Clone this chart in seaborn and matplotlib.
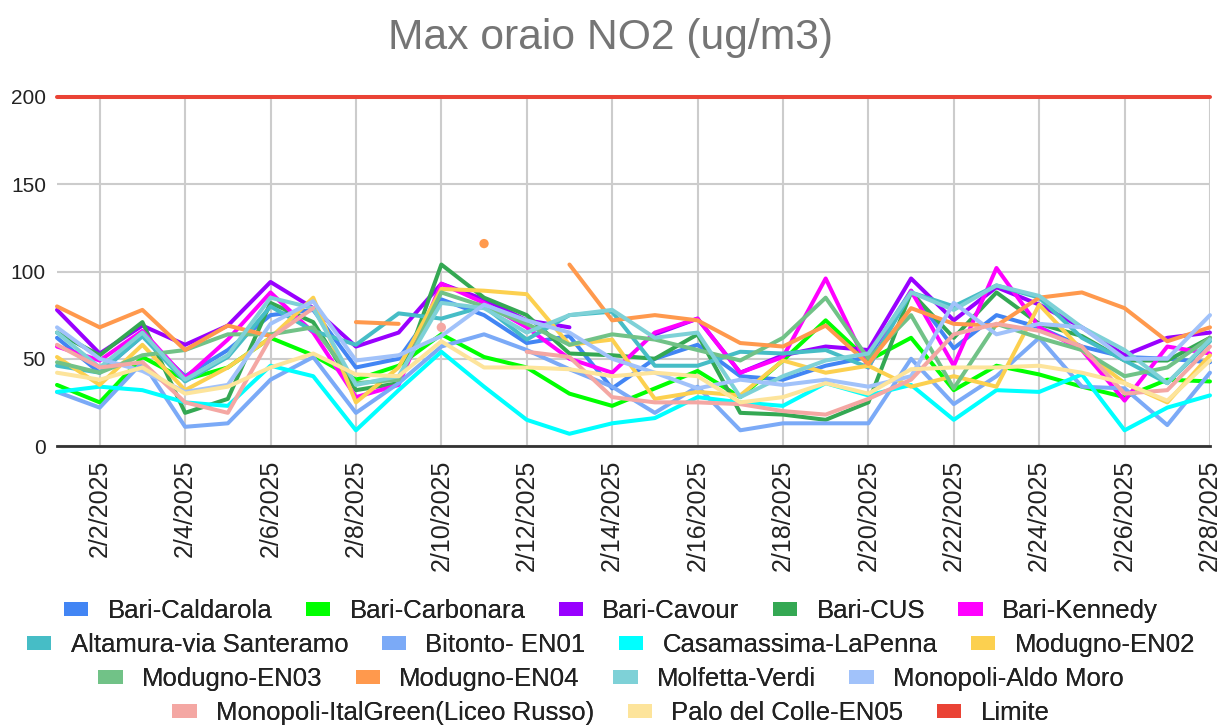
import numpy as np
import pandas as pd
import matplotlib
matplotlib.use("Agg")
import matplotlib.pyplot as plt
import seaborn as sns
from matplotlib.patches import Patch

nan = np.nan
days = list(range(1, 29))
tick_days = list(range(2, 29, 2))
tick_labels = [f"2/{d}/2025" for d in tick_days]

stations = [
    "Bari-Caldarola", "Bari-Carbonara", "Bari-Cavour", "Bari-CUS", "Bari-Kennedy",
    "Altamura-via Santeramo", "Bitonto- EN01", "Casamassima-LaPenna", "Modugno-EN02",
    "Modugno-EN03", "Modugno-EN04", "Molfetta-Verdi", "Monopoli-Aldo Moro",
    "Monopoli-ItalGreen(Liceo Russo)", "Palo del Colle-EN05", "Limite",
]

caldarola = [62, 42, 63, 40, 55, 75, 78, 45, 50, 84, 75, 59, 63, 33, 50, 58, 40, 38, 46, 51, 89, 56, 75, 68, 57, 51, 50, 48]
carbonara = [35, 25, 51, 38, 45, 62, 52, 38, 46, 64, 51, 45, 30, 23, 33, 43, 28, 49, 72, 49, 62, 32, 46, 41, 34, 28, 38, 37]
cavour = [78, 53, 69, 58, 69, 94, 79, 57, 65, 93, 84, 72, 68, nan, 64, 73, 42, 52, 57, 55, 96, 72, 91, 81, 68, 52, 62, 65]
cus = [65, 52, 71, 19, 27, 82, 71, 32, 36, 104, 85, 75, 53, 52, 50, 64, 19, 18, 15, 25, 88, 62, 88, 70, 63, 49, 49, 62]
kennedy = [57, 49, 66, 39, 61, 88, 65, 28, 35, 93, 82, 68, 50, 42, 65, 73, 42, 51, 96, 45, 89, 46, 102, 68, 55, 26, 57, 53]
altamura = [46, 42, 63, 37, 51, 80, 66, 58, 76, 73, 80, 61, 75, 77, 46, 46, 54, 53, 55, 45, 88, 80, 92, 85, 62, 49, 36, 60]
bitonto = [31, 22, 48, 11, 13, 38, 51, 19, 36, 57, 64, 55, 44, 34, 19, 34, 9, 13, 13, 13, 50, 24, 40, 62, 34, 33, 12, 42]
casamassima = [31, 34, 32, 25, 23, 46, 40, 9, 32, 54, 34, 15, 7, 13, 16, 28, 25, 23, 36, 29, 35, 15, 32, 31, 41, 9, 22, 29]
modugno02 = [51, 35, 58, 32, 45, 62, 85, 25, 45, 90, 89, 87, 58, 61, 27, 31, 29, 49, 42, 46, 34, 40, 34, 81, 55, 36, 25, 52]
modugno03 = [48, 42, 52, 55, 64, 64, 68, 36, 38, 88, 80, 70, 58, 64, 61, 55, 49, 62, 85, 50, 75, 33, 70, 62, 55, 40, 45, 62]
modugno04 = [80, 68, 78, 55, 69, 63, nan, 71, 70, nan, 116, nan, 104, 72, 75, 72, 59, 57, 69, 47, 79, 70, 69, 85, 88, 79, 60, 68]
molfetta = [65, 45, 65, 38, 52, 85, 79, 35, 40, 82, 79, 65, 75, 78, 62, 65, 28, 40, 49, 53, 88, 78, 92, 86, 68, 55, 36, 61]
aldomoro = [68, 50, 43, 31, 35, 70, 83, 49, 52, 63, 81, 72, 65, 50, 42, 33, 38, 35, 38, 34, 40, 82, 64, 70, 68, 50, 50, 75]
italgreen = [58, 45, 48, 25, 19, 62, 79, nan, nan, 68, nan, 54, 51, 28, 25, 25, 24, 20, 18, 27, 38, 64, 70, 66, 57, 30, 32, 57]
palo = [42, 38, 45, 30, 34, 45, 53, 41, 40, 60, 45, 45, 44, 40, 42, 40, 25, 28, 36, 30, 44, 45, 45, 46, 42, 36, 26, 49]
limite = [200] * 28

values = [caldarola, carbonara, cavour, cus, kennedy, altamura, bitonto, casamassima,
          modugno02, modugno03, modugno04, molfetta, aldomoro, italgreen, palo, limite]

colors = ["#4285f4", "#00ff00", "#9900ff", "#34a853", "#ff00ff", "#46bdc6", "#7baaf7",
          "#00ffff", "#fcd04f", "#71c287", "#ff994d", "#7ed1d7", "#a1c2fa", "#f4a7a3",
          "#fde49b", "#ea4335"]
palette = dict(zip(stations, colors))

# long-form table, with a segment id so gaps (missing days) break the lines
rows = []
seg = 0
for name, vals in zip(stations, values):
    prev_missing = True
    for d, v in zip(days, vals):
        if v is None or (isinstance(v, float) and np.isnan(v)):
            prev_missing = True
            continue
        if prev_missing:
            seg += 1
        prev_missing = False
        rows.append({"day": d, "value": v, "station": name, "seg": seg})
df = pd.DataFrame(rows)
seg_size = df.groupby("seg")["day"].transform("size")
lines_df = df[seg_size > 1]
points_df = df[seg_size == 1]

sns.set_theme(style="white")
plt.rcParams["font.family"] = ["Liberation Sans", "DejaVu Sans"]

W, H = 1222, 726
fig = plt.figure(figsize=(W / 100, H / 100), dpi=100)
ax = fig.add_axes([57 / W, 1 - 446 / H, (1210 - 57) / W, (446 - 97) / H])

sns.lineplot(data=lines_df, x="day", y="value", hue="station", units="seg",
             estimator=None, palette=palette, hue_order=stations, linewidth=2.9,
             legend=False, ax=ax)
sns.scatterplot(data=points_df, x="day", y="value", hue="station", palette=palette,
                hue_order=stations, s=45, edgecolor="none", legend=False, ax=ax, zorder=5)
for ln in ax.lines:
    ln.set_clip_on(False)
    ln.set_solid_joinstyle("round")

ax.set_xlim(1, 28)
ax.set_ylim(0, 200)
ax.set_xticks(tick_days)
ax.set_xticklabels(tick_labels, rotation=90, fontsize=18, color="#222222")
ax.set_yticks([0, 50, 100, 150, 200])
ax.set_yticklabels(["0", "50", "100", "150", "200"], fontsize=15, color="#222222")
ax.tick_params(axis="both", length=0)
ax.tick_params(axis="x", pad=10)
ax.tick_params(axis="y", pad=8)
ax.grid(True, color="#cccccc", linewidth=1.5)
ax.set_axisbelow(True)
for s in ["top", "right", "left"]:
    ax.spines[s].set_visible(False)
ax.spines["bottom"].set_color("#333333")
ax.spines["bottom"].set_linewidth(2)
ax.set_xlabel("")
ax.set_ylabel("")

fig.text(0.5, 1 - 38 / H, "Max oraio NO2 (ug/m3)", ha="center", va="center",
         fontsize=30.7, color="#757575")

row_groups = [stations[0:5], stations[5:9], stations[9:13], stations[13:16]]
row_y = [611, 645, 679, 713]
for grp, yy in zip(row_groups, row_y):
    handles = [Patch(facecolor=palette[n], edgecolor="none") for n in grp]
    leg = fig.legend(handles, grp, loc="center", bbox_to_anchor=(0.5, 1 - yy / H),
                     ncol=len(grp), frameon=False, fontsize=18.5, handlelength=0.95,
                     handleheight=0.5, handletextpad=0.75, columnspacing=1.3,
                     borderpad=0, borderaxespad=0)
    for t in leg.get_texts():
        t.set_color("#222222")
    fig.add_artist(leg)

fig.savefig("out.png", dpi=100)
